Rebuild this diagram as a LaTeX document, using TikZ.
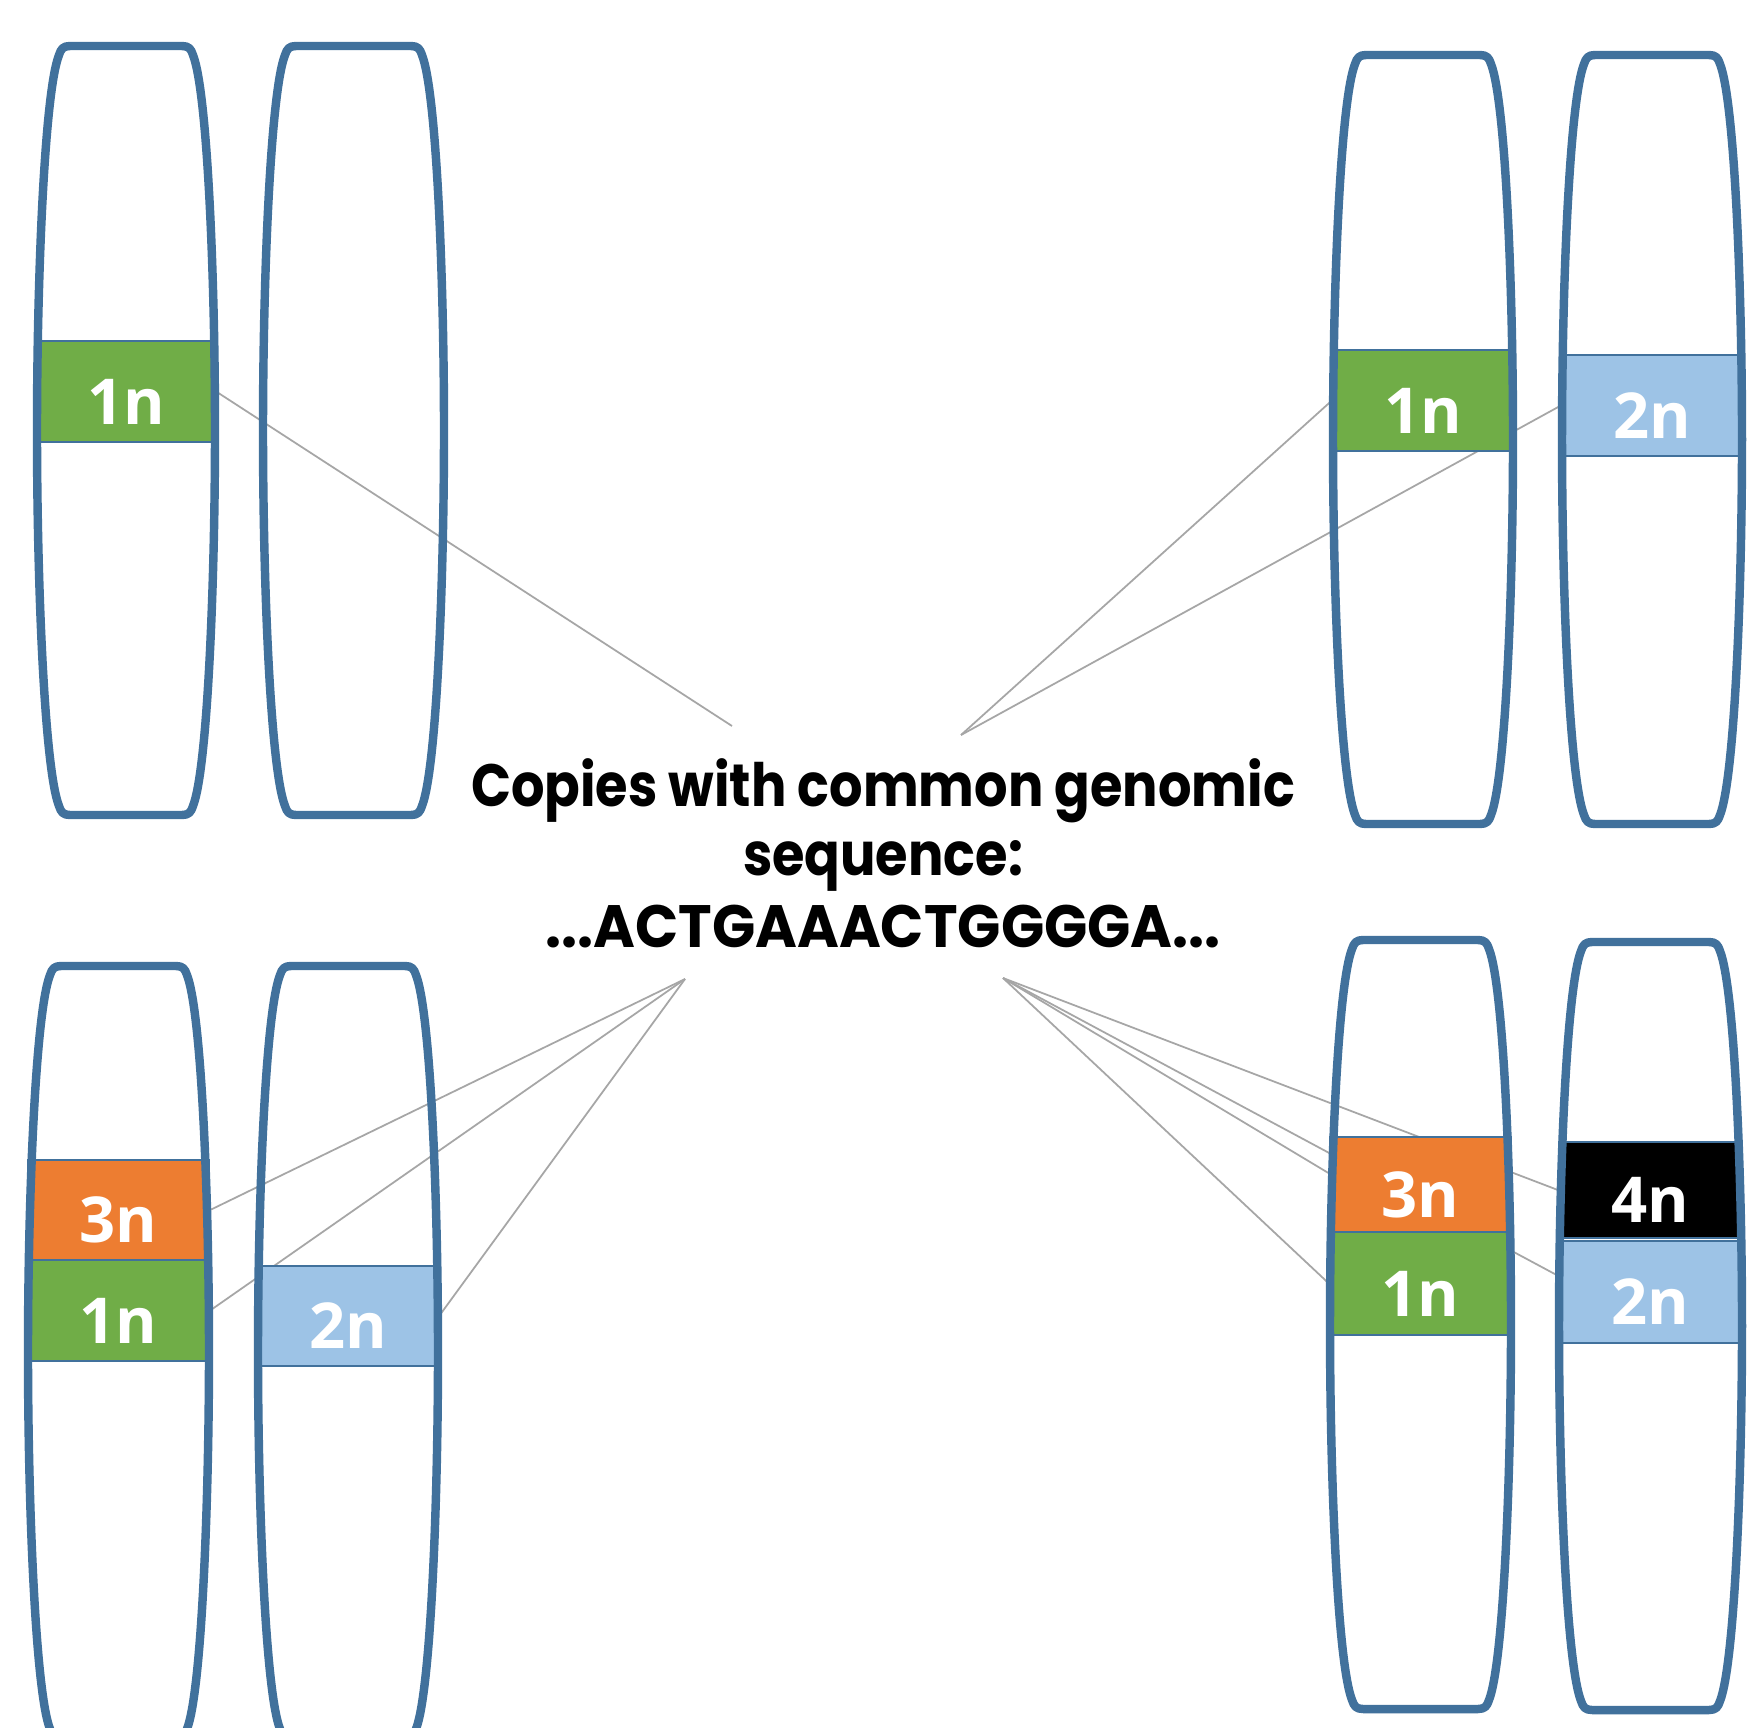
\documentclass[tikz,border=0pt]{standalone}
\usepackage{fontspec}
\newfontfamily\titlefont{Poppins}[FakeStretch=0.88]
\newfontfamily\seqfont{Poppins}[FakeStretch=0.95]
\newfontfamily\bandfont{Open Sans}
\definecolor{chromblue}{HTML}{41719C}
\definecolor{bandgreen}{HTML}{70AD47}
\definecolor{bandorange}{HTML}{ED7D31}
\definecolor{bandblue}{HTML}{9DC3E6}
\definecolor{conngray}{HTML}{A6A6A6}
\pgfdeclarelayer{back}
\pgfdeclarelayer{conn}
\pgfdeclarelayer{front}
\pgfsetlayers{back,conn,main,front}
\tikzset{
  chromline/.style={draw=chromblue, line width=2.4pt, line join=round},
  band/.style={draw=chromblue, line width=0.6pt, inner sep=0pt, text=white,
    font=\bandfont\bfseries\fontsize{18}{18}\selectfont,
    text height=18.6pt, text depth=0pt, minimum height=1.01cm},
  conn/.style={draw=conngray, line width=0.5pt},
  title/.style={font=\titlefont\bfseries\fontsize{17}{20}\selectfont, anchor=base, inner sep=0pt},
  seqtitle/.style={title, font=\seqfont\bfseries\fontsize{17}{20}\selectfont}
}
\newcommand\chromo[4]{%
  \pgfmathsetmacro\cL{#1}\pgfmathsetmacro\cT{#2}%
  \pgfmathsetmacro\cR{#3}\pgfmathsetmacro\cB{#4}%
  \pgfmathsetmacro\cH{\cB-\cT}\pgfmathsetmacro\cM{(\cT+\cB)/2}%
  \pgfmathsetmacro\cD{25}%
  \draw[chromline] ({\cL+\cD+8},\cT) -- ({\cR-\cD-8},\cT)
    .. controls ({\cR-\cD-1},\cT) and ({\cR-\cD+1},{\cT+3}) .. ({\cR-\cD+3},{\cT+9})
    .. controls ({\cR-0.3*\cD},{\cT+0.06*\cH}) and (\cR,{\cT+0.3*\cH}) .. (\cR,\cM)
    .. controls (\cR,{\cB-0.3*\cH}) and ({\cR-0.3*\cD},{\cB-0.06*\cH}) .. ({\cR-\cD+3},{\cB-9})
    .. controls ({\cR-\cD+1},{\cB-3}) and ({\cR-\cD-1},\cB) .. ({\cR-\cD-8},\cB)
    -- ({\cL+\cD+8},\cB)
    .. controls ({\cL+\cD+1},\cB) and ({\cL+\cD-1},{\cB-3}) .. ({\cL+\cD-3},{\cB-9})
    .. controls ({\cL+0.3*\cD},{\cB-0.06*\cH}) and (\cL,{\cB-0.3*\cH}) .. (\cL,\cM)
    .. controls (\cL,{\cT+0.3*\cH}) and ({\cL+0.3*\cD},{\cT+0.06*\cH}) .. ({\cL+\cD-3},{\cT+9})
    .. controls ({\cL+\cD-1},{\cT+3}) and ({\cL+\cD+1},\cT) .. ({\cL+\cD+8},\cT) -- cycle;
}
\begin{document}
\begin{tikzpicture}[x=0.01cm,y=-0.01cm]
\useasboundingbox (0,0) rectangle (1752,1727);
\begin{pgfonlayer}{back}
  \fill[white] (0,0) rectangle (1752,1727);
\end{pgfonlayer}

% bands
\node[band, fill=bandgreen,  minimum width=1.78cm] (tlA) at (126,391.5) {1n};
\node[band, fill=bandgreen,  minimum width=1.80cm] (trA) at (1423,400.5) {1n};
\node[band, fill=bandblue,   minimum width=1.80cm] (trB) at (1652,405.5) {2n};
\node[band, fill=bandorange, minimum width=1.81cm, minimum height=1.00cm] (blA) at (118.5,1210) {3n};
\node[band, fill=bandgreen,  minimum width=1.81cm] (blB) at (118.5,1310.5) {1n};
\node[band, fill=bandblue,   minimum width=1.80cm, minimum height=1.00cm] (blC) at (348,1316) {2n};
\node[band, fill=bandorange, minimum width=1.81cm, minimum height=0.95cm] (brA) at (1420.5,1184.5) {3n};
\node[band, fill=bandgreen,  minimum width=1.81cm, minimum height=1.03cm] (brB) at (1420.5,1283.5) {1n};
\node[band, fill=black,      minimum width=1.83cm, minimum height=0.96cm] (brC) at (1650.5,1190) {4n};
\node[band, fill=bandblue,   minimum width=1.83cm, minimum height=1.02cm] (brD) at (1650.5,1292) {2n};

% title
\node[title] (t1) at (883,806) {Copies with common genomic};
\node[title] (t2) at (883,875) {sequence:};
\node[seqtitle] (t3) at (883,947) {...ACTGAAACTGGGGA...};

% hubs
\coordinate (hubTL) at (732,726);
\coordinate (hubTR) at (961,735);
\coordinate (hubBL) at (685,979);
\coordinate (hubBR) at (1003,978);

\begin{pgfonlayer}{conn}
  \draw[conn] (tlA.east) -- (hubTL);
  \draw[conn] (trA.west) -- (hubTR);
  \draw[conn] (trB.west) -- (hubTR);
  \draw[conn] (blA.east) -- (hubBL);
  \draw[conn] (blB.east) -- (hubBL);
  \draw[conn] (blC.east) -- (hubBL);
  \draw[conn] (brA.173) -- (hubBR);
  \draw[conn] (brB.west) -- (hubBR);
  \draw[conn] (brC.west) -- (hubBR);
  \draw[conn] (brD.170) -- (hubBR);
\end{pgfonlayer}

\begin{pgfonlayer}{front}
  \chromo{37}{46}{215}{815}
  \chromo{263}{46}{444}{815}
  \chromo{1333}{55}{1513}{824}
  \chromo{1562}{55}{1742}{824}
  \chromo{28}{966}{209}{1738}
  \chromo{258}{966}{438}{1738}
  \chromo{1330}{940}{1511}{1709}
  \chromo{1559}{942}{1742}{1710}
\end{pgfonlayer}
\end{tikzpicture}
\end{document}
